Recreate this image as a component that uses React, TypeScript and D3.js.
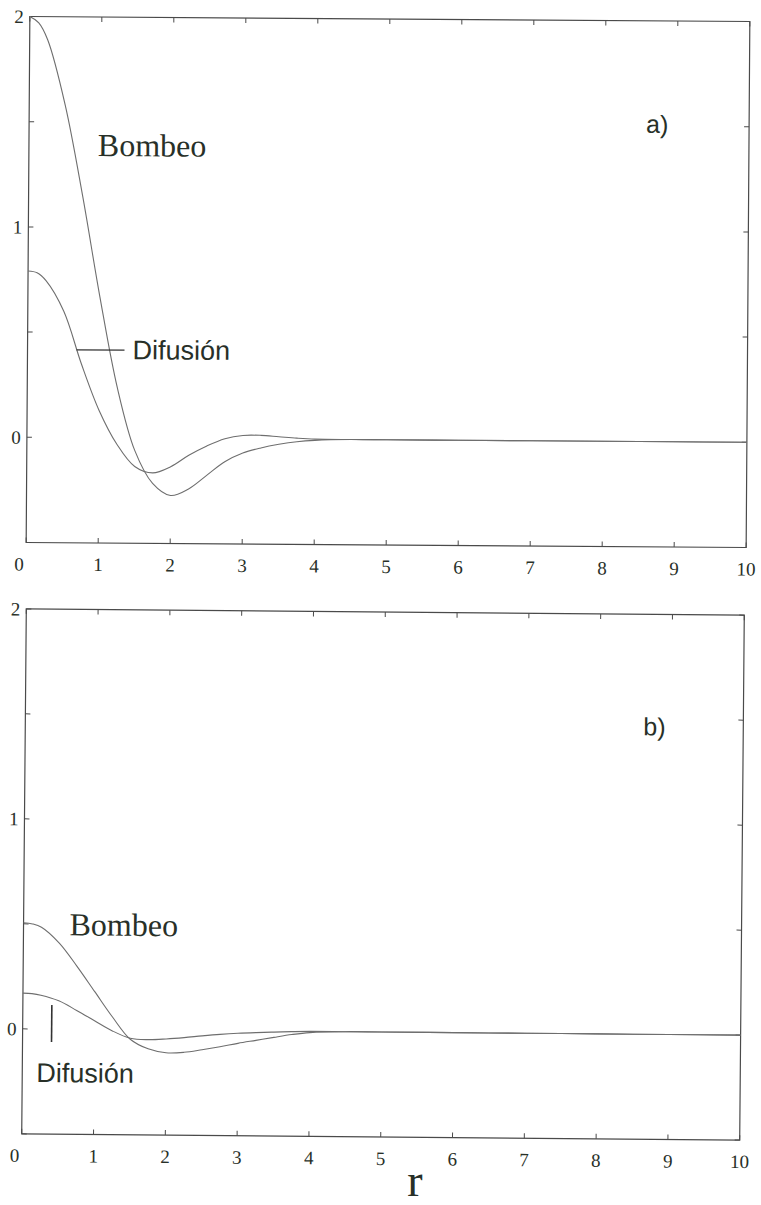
import React from "react";
import * as d3 from "d3";

// ---- data ----
const rValues = [0, 0.125, 0.25, 0.5, 0.75, 1, 1.25, 1.5, 1.75, 2, 2.25, 2.5, 2.75, 3, 3.25, 3.5, 3.75, 4, 4.5, 5, 6, 7, 8, 9, 10];

const bombeoA = [2.0, 1.97, 1.89, 1.58, 1.15, 0.67, 0.24, -0.06, -0.215, -0.272, -0.24, -0.175, -0.11, -0.068, -0.043, -0.025, -0.012, -0.005, 0, 0, 0, 0, 0, 0, 0];
const difusionA = [0.79, 0.782, 0.745, 0.6, 0.35, 0.13, -0.03, -0.135, -0.165, -0.135, -0.08, -0.035, 0.0, 0.016, 0.017, 0.011, 0.005, 0.001, 0, 0, 0, 0, 0, 0, 0];

const bombeoB = [0.505, 0.5, 0.485, 0.41, 0.3, 0.18, 0.06, -0.045, -0.09, -0.108, -0.105, -0.092, -0.077, -0.06, -0.045, -0.03, -0.016, -0.006, 0, 0, 0, 0, 0, 0, 0];
const difusionB = [0.17, 0.168, 0.161, 0.135, 0.09, 0.042, -0.006, -0.04, -0.046, -0.042, -0.035, -0.026, -0.018, -0.012, -0.008, -0.005, -0.002, 0, 0, 0, 0, 0, 0, 0, 0];

const xTicks = [0, 1, 2, 3, 4, 5, 6, 7, 8, 9, 10];
const yTicks = [-0.5, 0, 0.5, 1, 1.5, 2];
const yLabelTicks = [0, 1, 2];
const xDomain = [0, 10];
const yDomain = [-0.5, 2];

const SERIF = "'Liberation Serif', 'Times New Roman', serif";
const SANS = "'Liberation Sans', Arial, sans-serif";
const AXIS = "#4a4a4a";
const CURVE = "#6e6e6e";
const TEXT = "#283028";

type PanelProps = {
  left: number; right: number; top: number; bottom: number; rot: number;
  series: number[][];
  children?: React.ReactNode;
};

function Panel({ left, right, top, bottom, rot, series, children }: PanelProps) {
  const x = d3.scaleLinear().domain(xDomain).range([left, right]);
  const y = d3.scaleLinear().domain(yDomain).range([bottom, top]);
  const line = d3
    .line<number>()
    .x((_, i) => x(rValues[i]))
    .y((v) => y(v))
    .curve(d3.curveCatmullRom.alpha(0.5));
  const cx = (left + right) / 2;
  const cy = (top + bottom) / 2;
  const tl = 5;
  return (
    <g transform={`rotate(${rot} ${cx} ${cy})`}>
      <rect x={left} y={top} width={right - left} height={bottom - top} fill="none" stroke={AXIS} strokeWidth={1.2} />
      {xTicks.map((t) => (
        <g key={"xt" + t}>
          <line x1={x(t)} x2={x(t)} y1={bottom} y2={bottom - tl} stroke={AXIS} strokeWidth={1} />
          <line x1={x(t)} x2={x(t)} y1={top} y2={top + tl} stroke={AXIS} strokeWidth={1} />
          <text
            x={x(t) + (t === 0 ? -7 : 0)}
            y={bottom + 28}
            textAnchor="middle"
            fontFamily={SERIF}
            fontSize={19}
            fill={TEXT}
          >
            {t}
          </text>
        </g>
      ))}
      {yTicks.map((t) => (
        <g key={"yt" + t}>
          <line x1={left} x2={left + tl} y1={y(t)} y2={y(t)} stroke={AXIS} strokeWidth={1} />
          <line x1={right} x2={right - tl} y1={y(t)} y2={y(t)} stroke={AXIS} strokeWidth={1} />
        </g>
      ))}
      {yLabelTicks.map((t) => (
        <text
          key={"yl" + t}
          x={left - 6}
          y={y(t)}
          dy="0.35em"
          textAnchor="end"
          fontFamily={SERIF}
          fontSize={19}
          fill={TEXT}
        >
          {t}
        </text>
      ))}
      {series.map((s, i) => (
        <path key={"s" + i} d={line(s) || ""} fill="none" stroke={CURVE} strokeWidth={1.1} />
      ))}
      {children}
    </g>
  );
}

export default function App() {
  return (
    <svg
      width={761}
      height={1205}
      style={{ position: "absolute", left: 0, top: 0, background: "#fff" }}
    >
      <rect x={0} y={0} width={761} height={1205} fill="#fff" />
      <Panel left={28} right={748} top={19} bottom={545} rot={0.4} series={[bombeoA, difusionA]}>
        <text x={97} y={158} fontFamily={SERIF} fontSize={32} fill={TEXT}>Bombeo</text>
        <line x1={77} x2={125} y1={352} y2={352} stroke="#333" strokeWidth={1.4} />
        <text x={133} y={361} fontFamily={SANS} fontSize={27} fill={TEXT}>Difusión</text>
        <text x={645} y={131} fontFamily={SANS} fontSize={25} fill={TEXT}>a)</text>
      </Panel>
      <Panel left={24} right={742} top={612} bottom={1137} rot={0.5} series={[bombeoB, difusionB]}>
        <text x={70} y={938} fontFamily={SERIF} fontSize={32} fill={TEXT}>Bombeo</text>
        <line x1={53} x2={53} y1={1008} y2={1045} stroke="#333" strokeWidth={1.6} />
        <text x={38} y={1085} fontFamily={SANS} fontSize={27} fill={TEXT}>Difusión</text>
        <text x={642} y={733} fontFamily={SANS} fontSize={25} fill={TEXT}>b)</text>
      </Panel>
      <text x={415} y={1196} textAnchor="middle" fontFamily={SERIF} fontSize={46} fill={TEXT}>r</text>
    </svg>
  );
}
